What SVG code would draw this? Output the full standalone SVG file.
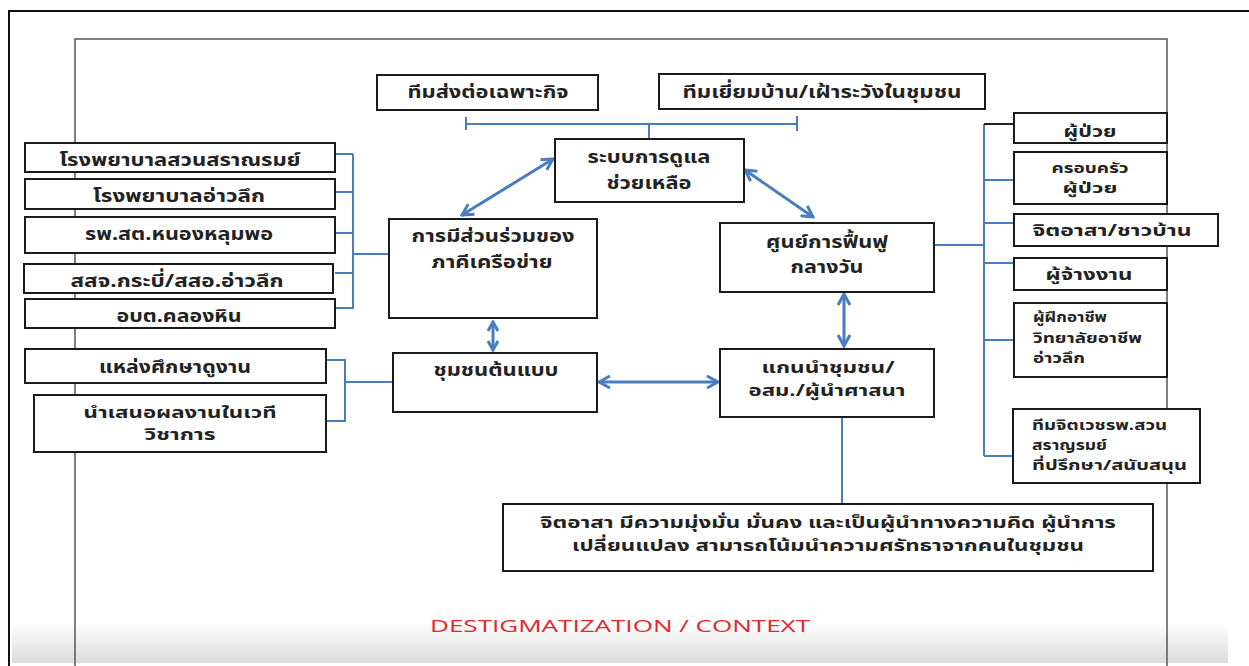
<svg xmlns="http://www.w3.org/2000/svg" width="1249" height="666" viewBox="0 0 1249 666">
<style>
.box{fill:#fff;stroke:#1a1a1a;stroke-width:2}
.t{font-family:"Noto Sans Thai","Noto Sans Thai UI","Noto Sans","DejaVu Sans",sans-serif;font-weight:bold;font-size:18px;fill:#222;text-anchor:middle}
.m{font-size:16px}
.s{font-size:14px}
.l{text-anchor:start}
.c{fill:none;stroke:#4a7dbf;stroke-width:2}
.a{fill:none;stroke:#4a7dbf;stroke-width:3}
.frame{fill:none;stroke:#111;stroke-width:2}
.inner{fill:none;stroke:#555;stroke-width:1.5}
</style>
<defs>
<marker id="ah" viewBox="0 0 14 14" markerWidth="14" markerHeight="14" refX="12" refY="7" orient="auto-start-reverse" markerUnits="userSpaceOnUse">
<path d="M1,1 L12,7 L1,13" fill="none" stroke="#4a7dbf" stroke-width="3"/>
</marker>
<marker id="ahs" viewBox="0 0 12 12" markerWidth="12" markerHeight="12" refX="10" refY="6" orient="auto-start-reverse" markerUnits="userSpaceOnUse">
<path d="M1,1 L10,6 L1,11" fill="none" stroke="#4a7dbf" stroke-width="3"/>
</marker>
<linearGradient id="fade" x1="0" y1="0" x2="0" y2="1">
<stop offset="0" stop-color="#ffffff"/>
<stop offset="1" stop-color="#dcdcdc"/>
</linearGradient>
</defs>
<rect x="0" y="0" width="1249" height="666" fill="#fff"/>
<rect x="12" y="622" width="1216" height="41" fill="url(#fade)"/>
<g id="frames">
<path class="frame" d="M9,666 V11 H1249"/>
<path class="inner" d="M75,666 V39 H1167 V666"/>
</g>
<g id="connectors">
<path class="c" d="M466,117 V130 M466,124 H797 M797,116 V131 M649,124 V139"/>
<path class="c" d="M335,154 H353 M335,192 H353 M335,233 H353 M335,273 H353 M335,308 H353 M353,154 V309 M353,254 H389"/>
<path class="c" d="M326,360 H345 V421 H326 M345,382 H393"/>
<path class="c" d="M934,245 H984 M984,124 V456 M984,180 H1014 M984,223 H1014 M984,263 H1014 M984,340 H1014 M984,456 H1013"/>
<path d="M984,124 H1014" fill="none" stroke="#222" stroke-width="2"/>
<path class="c" d="M842,417 V504"/>
<line class="a" x1="553" y1="159" x2="462" y2="215" marker-start="url(#ah)" marker-end="url(#ah)"/>
<line class="a" x1="745" y1="170" x2="813" y2="217" marker-start="url(#ah)" marker-end="url(#ah)"/>
<line class="a" x1="493" y1="322" x2="493" y2="350" marker-start="url(#ahs)" marker-end="url(#ahs)"/>
<line class="a" x1="599" y1="382" x2="718" y2="382" marker-start="url(#ah)" marker-end="url(#ah)"/>
<line class="a" x1="844" y1="294" x2="844" y2="346" marker-start="url(#ah)" marker-end="url(#ah)"/>
</g>
<g id="n-referral"><rect class="box" x="377" y="75" width="221" height="35"/><text class="t" x="488" y="98" textLength="161" lengthAdjust="spacingAndGlyphs">ทีมส่งต่อเฉพาะกิจ</text></g>
<g id="n-homevisit"><rect class="box" x="659" y="74" width="326" height="35"/><text class="t" x="822" y="98" textLength="279" lengthAdjust="spacingAndGlyphs">ทีมเยี่ยมบ้าน/เฝ้าระวังในชุมชน</text></g>
<g id="n-care"><rect class="box" x="555" y="139" width="189" height="63"/><text class="t" x="649" y="163" textLength="123" lengthAdjust="spacingAndGlyphs">ระบบการดูแล</text><text class="t" x="649" y="189" textLength="85" lengthAdjust="spacingAndGlyphs">ช่วยเหลือ</text></g>
<g id="n-network"><rect class="box" x="389" y="219" width="208" height="99"/><text class="t" x="493" y="242" textLength="163" lengthAdjust="spacingAndGlyphs">การมีส่วนร่วมของ</text><text class="t" x="492" y="268" textLength="121" lengthAdjust="spacingAndGlyphs">ภาคีเครือข่าย</text></g>
<g id="n-model"><rect class="box" x="393" y="353" width="204" height="59"/><text class="t" x="496" y="376" textLength="125" lengthAdjust="spacingAndGlyphs">ชุมชนต้นแบบ</text></g>
<g id="n-daycenter"><rect class="box" x="720" y="223" width="214" height="69"/><text class="t" x="827" y="248" textLength="122" lengthAdjust="spacingAndGlyphs">ศูนย์การฟื้นฟู</text><text class="t" x="827" y="273" textLength="73" lengthAdjust="spacingAndGlyphs">กลางวัน</text></g>
<g id="n-leaders"><rect class="box" x="720" y="349" width="214" height="68"/><text class="t m" x="828" y="373" textLength="133" lengthAdjust="spacingAndGlyphs">แกนนำชุมชน/</text><text class="t m" x="827" y="396" textLength="157" lengthAdjust="spacingAndGlyphs">อสม./ผู้นำศาสนา</text></g>
<g id="n-volunteer-desc"><rect class="box" x="503" y="504" width="650" height="67"/><text class="t m" x="828" y="528" textLength="576" lengthAdjust="spacingAndGlyphs">จิตอาสา มีความมุ่งมั่น มั่นคง และเป็นผู้นำทางความคิด ผู้นำการ</text><text class="t m" x="828" y="551" textLength="512" lengthAdjust="spacingAndGlyphs">เปลี่ยนแปลง สามารถโน้มนำความศรัทธาจากคนในชุมชน</text></g>
<g id="n-h1"><rect class="box" x="25" y="143" width="310" height="29"/><text class="t" x="180" y="166" textLength="241" lengthAdjust="spacingAndGlyphs">โรงพยาบาลสวนสราณรมย์</text></g>
<g id="n-h2"><rect class="box" x="25" y="179" width="310" height="30"/><text class="t" x="179" y="202" textLength="172" lengthAdjust="spacingAndGlyphs">โรงพยาบาลอ่าวลึก</text></g>
<g id="n-h3"><rect class="box" x="25" y="217" width="310" height="36"/><text class="t" x="179" y="240" textLength="188" lengthAdjust="spacingAndGlyphs">รพ.สต.หนองหลุมพอ</text></g>
<g id="n-h4"><rect class="box" x="24" y="264" width="309" height="29"/><text class="t" x="177" y="287" textLength="213" lengthAdjust="spacingAndGlyphs">สสจ.กระบี่/สสอ.อ่าวลึก</text></g>
<g id="n-h5"><rect class="box" x="25" y="299" width="310" height="29"/><text class="t" x="179" y="322" textLength="125" lengthAdjust="spacingAndGlyphs">อบต.คลองหิน</text></g>
<g id="n-study"><rect class="box" x="25" y="349" width="301" height="34"/><text class="t" x="175" y="373" textLength="152" lengthAdjust="spacingAndGlyphs">แหล่งศึกษาดูงาน</text></g>
<g id="n-present"><rect class="box" x="34" y="395" width="292" height="57"/><text class="t m" x="180" y="418" textLength="193" lengthAdjust="spacingAndGlyphs">นำเสนอผลงานในเวที</text><text class="t m" x="180" y="440" textLength="71" lengthAdjust="spacingAndGlyphs">วิชาการ</text></g>
<g id="n-patient"><rect class="box" x="1014" y="113" width="153" height="30"/><text class="t m" x="1090" y="137" textLength="53" lengthAdjust="spacingAndGlyphs">ผู้ป่วย</text></g>
<g id="n-family"><rect class="box" x="1014" y="152" width="153" height="52"/><text class="t s" x="1090" y="173" textLength="77" lengthAdjust="spacingAndGlyphs">ครอบครัว</text><text class="t s" x="1090" y="193" textLength="55" lengthAdjust="spacingAndGlyphs">ผู้ป่วย</text></g>
<g id="n-villager"><rect class="box" x="1014" y="214" width="204" height="32"/><text class="t m" x="1112" y="236" textLength="159" lengthAdjust="spacingAndGlyphs">จิตอาสา/ชาวบ้าน</text></g>
<g id="n-employer"><rect class="box" x="1014" y="258" width="153" height="32"/><text class="t m" x="1089" y="280" textLength="87" lengthAdjust="spacingAndGlyphs">ผู้จ้างงาน</text></g>
<g id="n-trainer"><rect class="box" x="1014" y="303" width="153" height="74"/><text class="t s l" x="1033" y="322" textLength="74" lengthAdjust="spacingAndGlyphs">ผู้ฝึกอาชีพ</text><text class="t s l" x="1033" y="343" textLength="109" lengthAdjust="spacingAndGlyphs">วิทยาลัยอาชีพ</text><text class="t s l" x="1033" y="363" textLength="52" lengthAdjust="spacingAndGlyphs">อ่าวลึก</text></g>
<g id="n-psych"><rect class="box" x="1013" y="409" width="187" height="74"/><text class="t s l" x="1032" y="430" textLength="135" lengthAdjust="spacingAndGlyphs">ทีมจิตเวชรพ.สวน</text><text class="t s l" x="1032" y="450" textLength="75" lengthAdjust="spacingAndGlyphs">สราญรมย์</text><text class="t s l" x="1032" y="470" textLength="155" lengthAdjust="spacingAndGlyphs">ที่ปรึกษา/สนับสนุน</text></g>
<text x="430" y="632" textLength="380" lengthAdjust="spacingAndGlyphs" font-family="'Open Sans','Liberation Sans',sans-serif" font-size="16" fill="#e3262b">DESTIGMATIZATION / CONTEXT</text>
</svg>
